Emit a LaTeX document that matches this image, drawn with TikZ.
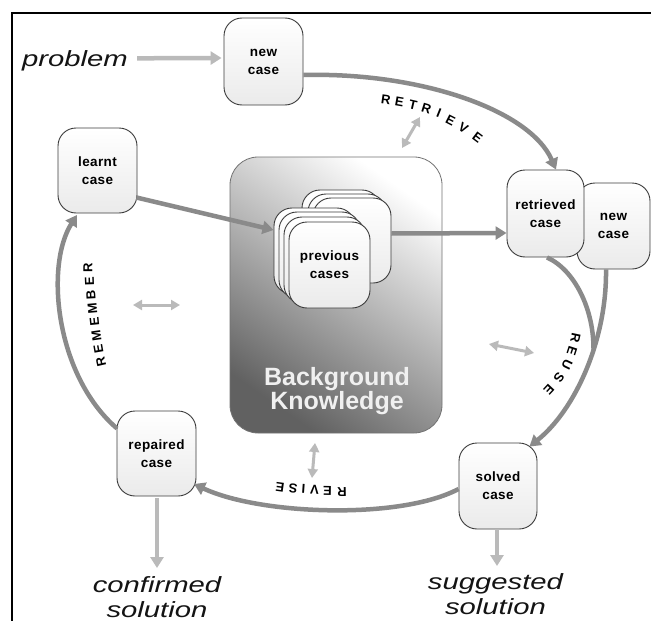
\documentclass[tikz,border=0pt]{standalone}
\usepackage{fontspec}
\setmainfont{Liberation Sans}
\usepackage{graphicx}
\usetikzlibrary{arrows.meta,calc}
\definecolor{darkarr}{RGB}{138,138,138}
\definecolor{lightarr}{RGB}{186,186,186}
\definecolor{boxline}{RGB}{60,60,60}
\newfontfamily\boxfontfam[LetterSpace=3]{Liberation Sans}
\newcommand\boxfont{\boxfontfam\bfseries\fontsize{13.5}{18}\selectfont}
\newcommand\arcfont{\bfseries\fontsize{13}{13}\selectfont}
\newcommand\bigfont{\itshape\fontsize{22}{25}\selectfont}
\newcommand\wide[1]{\scalebox{1.33}[1]{#1}}
\begin{document}
\begin{tikzpicture}[x=1pt,y=-1pt,
 casebox/.style={draw=boxline, line width=0.9pt, rounded corners=18pt, top color=white, bottom color=black!8, minimum width=79pt, minimum height=86pt, inner sep=0pt, align=center, font=\boxfont},
 darrow/.style={draw=darkarr, line width=4.5pt, -{Triangle[length=11pt,width=13pt]}},
 darc/.style={draw=darkarr, line width=4.5pt},
 larrow/.style={draw=lightarr, line width=4.5pt, -{Triangle[length=11pt,width=13pt]}},
 dblarrow/.style={draw=lightarr, line width=3pt, {Triangle[length=9pt,width=10pt]}-{Triangle[length=9pt,width=10pt]}},
 arcletter/.style={font=\arcfont, inner sep=0pt, text=black},
 bigtext/.style={font=\bigfont, inner sep=0pt, text=black!92, align=center},
]
\fill[white] (0,0) rectangle (651,621);
\useasboundingbox (0,0) rectangle (651,621);
\draw[line width=2pt] (12,621) -- (12,13) -- (651,13);

% background knowledge
\node[draw=black!55, line width=0.8pt, rounded corners=28pt, minimum width=212pt, minimum height=276pt,
      shading=axis, top color=white, bottom color=black!62, shading angle=-35] (bk) at (336,295) {};
\node[font=\bfseries\fontsize{25}{24}\selectfont, text=white!94!black, align=center] (bktext) at (337,391) {Background\\Knowledge};

% previous cases stack
\node[casebox, minimum width=78pt, minimum height=85pt] (B1) at (341,232.5) {};
\node[casebox, minimum width=78pt, minimum height=85pt] (B2) at (347,236.5) {};
\node[casebox, minimum width=78pt, minimum height=85pt] (B3) at (352,240.5) {};
\node[casebox, minimum width=81pt] (F1) at (314.5,251) {};
\node[casebox, minimum width=81pt] (F2) at (319.5,255) {};
\node[casebox, minimum width=81pt] (F3) at (324.5,260) {};
\node[casebox, minimum width=81pt] (F4) at (329.5,265) {previous\\cases};

% case boxes
\node[casebox, minimum width=73pt] (newcase2) at (613.5,226) {new\\case};
\node[casebox, minimum width=77pt, minimum height=87pt] (retrieved) at (545.5,213.5) {retrieved\\case};
\node[casebox, minimum height=87pt] (newcase) at (263.5,61.5) {new\\case};
\node[casebox, minimum height=85pt] (learnt) at (97.5,170.5) {learnt\\case};
\node[casebox, minimum width=78pt] (solved) at (498,486) {solved\\case};
\node[casebox, minimum height=85pt] (repaired) at (156.5,453.5) {repaired\\case};

% outer texts
\node[bigtext, anchor=base] (problem) at (75,66) {\wide{problem}};
\node[bigtext, anchor=north] (confirmed) at (157,576) {\wide{confirmed}\\\wide{solution}};
\node[bigtext, anchor=north] (suggested) at (495.5,573) {\wide{suggested}\\\wide{solution}};

% connectors
\draw[larrow] ($(problem.east)+(9,-2)$) -- ($(newcase.west)+(-2,-3.5)$);
\draw[darrow] ($(newcase.east)+(0,13.5)$) .. controls (420,72) and (530,110) .. ($(retrieved.north)+(10.5,0)$);
\draw[darrow] ($(learnt.east)+(-1,27)$) -- ($(F1.west)+(0,-21)$);
\draw[darrow] ($(B3.east)+(0,-7)$) -- ($(retrieved.west)+(0,19.5)$);
\coordinate (merge) at (593.5,350);
\draw[darc] ($(retrieved.south)+(1.5,0)$) .. controls (575,270) and (594,310) .. (merge);
\draw[darrow] ($(newcase2.south)+(-7.5,0)$) .. controls (607,340) and (575,410) .. ($(solved.north east)+(-8,4)$);
\draw[darrow] ($(solved.west)+(0,3)$) .. controls (400,520) and (260,515) .. ($(repaired.east)+(-2.5,30.5)$);
\draw[darrow] ($(repaired.west)+(0.5,-25)$) .. controls (55,375) and (45,265) .. ($(learnt.south)+(-20.5,1.5)$);
\draw[larrow] ($(repaired.south)+(0.5,2)$) -- ($(confirmed.north)+(0,-8)$);
\draw[larrow] ($(solved.south)+(-1,0)$) -- ($(solved.south |- suggested.north)+(-1,-7)$);

% double arrows
\coordinate (d1a) at (402,148); \coordinate (d1b) at (420,117);
\coordinate (d2a) at (133,305); \coordinate (d2b) at (180,305);
\coordinate (d3a) at (489,344); \coordinate (d3b) at (534,353);
\coordinate (d4a) at (315,443); \coordinate (d4b) at (312,478);
\draw[dblarrow] (d1a) -- (d1b);
\draw[dblarrow] (d2a) -- (d2b);
\draw[dblarrow] (d3a) -- (d3b);
\draw[dblarrow] (d4a) -- (d4b);

% arc labels
\foreach \ch/\x/\y/\r [count=\i] in {R/386/100/-8, E/399.5/102/-10, T/413/105/-13, R/426.5/108.5/-17, I/439/113.5/-22, E/450.5/120/-27, V/463.5/128/-32, E/477.5/138/-37}
  \node[arcletter, rotate=\r] (retr\i) at (\x,\y) {\ch};
\foreach \ch/\x/\y/\r [count=\i] in {R/575.5/338/-102, E/572/351/-108, U/567/364.5/-116, S/559/378/-125, E/549/390/-133}
  \node[arcletter, rotate=\r] (reuse\i) at (\x,\y) {\ch};
\foreach \ch/\x/\y/\r [count=\i] in {R/342/492.5/181, E/327.5/491/179, V/314.5/490/177, I/303.5/489/176, S/293/488/174, E/280/487/172}
  \node[arcletter, rotate=\r] (revise\i) at (\x,\y) {\ch};
\foreach \ch/\x/\y/\r [count=\i] in {R/101/362/103, E/98.5/349/100, M/96.5/335.5/98, E/94.5/322/96, M/92.5/308.5/95, B/91/295/93, E/89.5/281.5/92, R/88/268/90}
  \node[arcletter, rotate=\r] (remember\i) at (\x,\y) {\ch};
\end{tikzpicture}
\end{document}
